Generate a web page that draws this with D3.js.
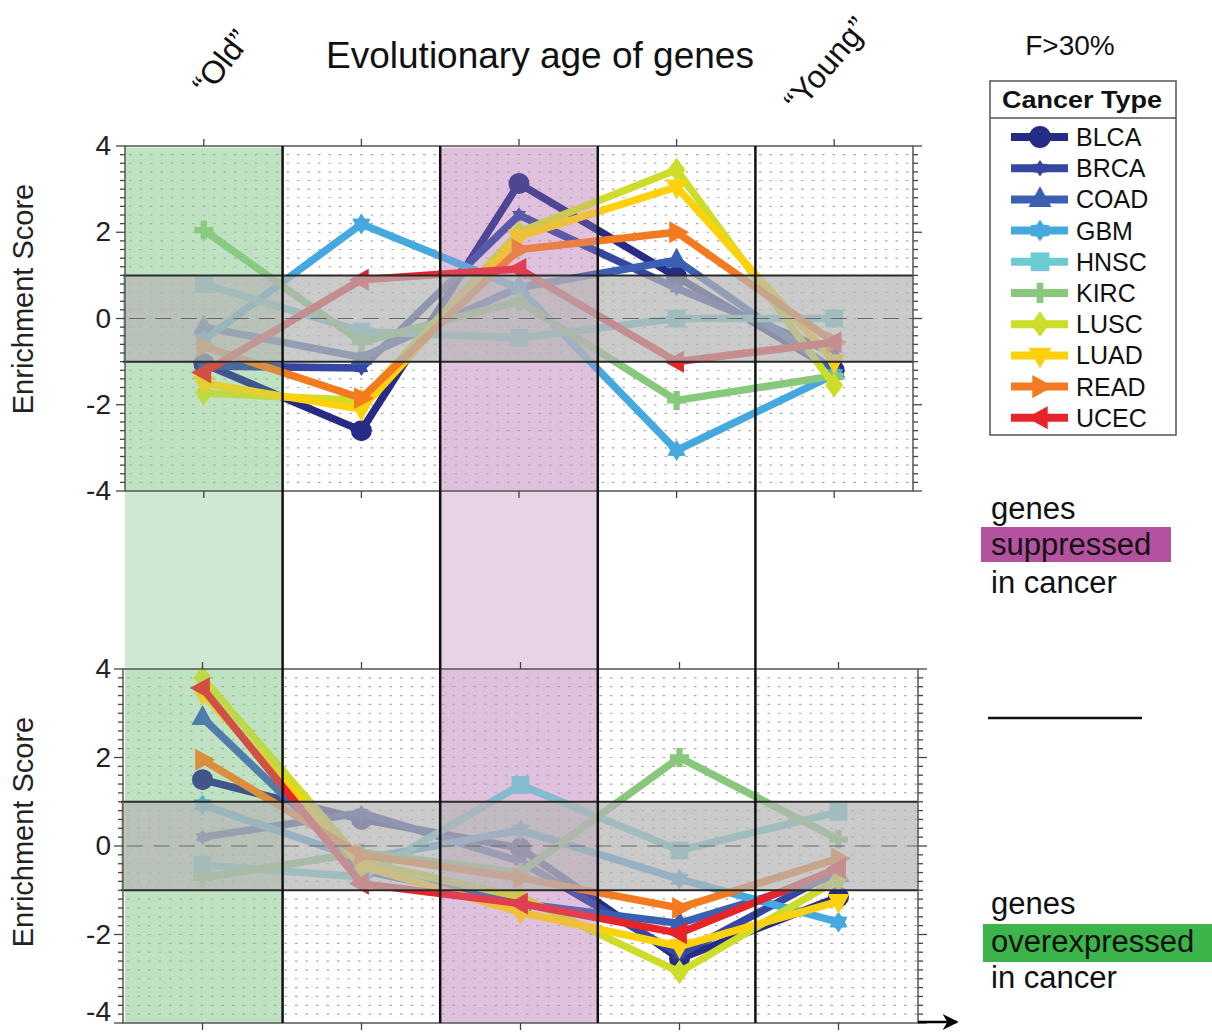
<!DOCTYPE html>
<html lang="en">
<head>
<meta charset="UTF-8">
<title>Evolutionary age of genes</title>
<style>
    body { margin: 0; background: #fff; }
    svg { display: block; font-family: "Liberation Sans", Arial, Helvetica, sans-serif; }
</style>
</head>
<body>
<svg id="chart" width="1212" height="1032"></svg>
<script src="https://d3js.org/d3.v7.min.js"></script>
<script>
    // age bins, "Old" -> "Young"
    var ageBins = [1, 2, 3, 4, 5];
    var cancerTypes = ["BLCA", "BRCA", "COAD", "GBM", "HNSC", "KIRC", "LUSC", "LUAD", "READ", "UCEC"];
    var typeColors = ["#262c85", "#3547a0", "#3b60b2", "#45a9e0", "#6ccbd2", "#87c87d", "#cedc2a", "#fdd10c", "#f47a21", "#e8242b"];
    var typeMarkers = ["circle", "hexSmall", "triUp", "hexagram", "square", "plus", "diamond", "triDown", "triRight", "triLeft"];
    var yTicks = [-4, -2, 0, 2, 4];

    // enrichment scores, one row per cancer type (upper panel: suppressed genes)
    var suppressedScores = [
        [-1.05, -2.6, 3.13, 0.97, -1.2],
        [-1.1, -1.15, 2.4, 0.7, -0.8],
        [-0.2, -0.9, 0.72, 1.35, -1.2],
        [-0.5, 2.19, 0.7, -3.06, -1.3],
        [0.8, -0.3, -0.45, 0.0, 0.0],
        [2.05, -0.55, 0.4, -1.9, -1.33],
        [-1.73, -1.9, 2.0, 3.45, -1.55],
        [-1.5, -2.1, 1.9, 3.05, -1.0],
        [-0.65, -1.85, 1.6, 2.0, -0.55],
        [-1.25, 0.9, 1.15, -1.0, -0.55]
    ];
    // lower panel: overexpressed genes
    var overexpressedScores = [
        [1.5, 0.6, -0.05, -2.55, -1.15],
        [0.2, 0.75, -0.35, -2.45, -0.55],
        [2.9, -0.55, -1.3, -1.75, -0.65],
        [0.93, -0.3, 0.36, -0.75, -1.72],
        [-0.43, -0.7, 1.38, -0.1, 0.77],
        [-0.72, -0.15, -0.6, 2.0, 0.15],
        [3.8, -0.35, -1.15, -2.85, -0.75],
        [3.45, -0.45, -1.5, -2.27, -1.25],
        [1.95, -0.2, -0.72, -1.4, -0.28],
        [3.57, -0.85, -1.3, -1.97, -0.5]
    ];

    var svg = d3.select("#chart");

    var xTop = d3.scaleLinear().domain([0.5, 5.5]).range([125, 913]);
    var yTop = d3.scaleLinear().domain([-4, 4]).range([491, 146]);
    var xBot = d3.scaleLinear().domain([0.5, 5.5]).range([123, 918]);
    var yBot = d3.scaleLinear().domain([-4, 4]).range([1023, 669]);

    var greenBand = "#cfe8d1", purpleBand = "#e8d2e6";

    // marker shapes, drawn around 0,0
    function markerPath(type, r) {
        var p = d3.path();
        if (type === "circle") {
            p.arc(0, 0, r, 0, 2 * Math.PI);
        } else if (type === "square") {
            p.rect(-r * 0.85, -r * 0.85, r * 1.7, r * 1.7);
        } else if (type === "diamond") {
            p.moveTo(0, -r * 1.15); p.lineTo(r * 0.85, 0); p.lineTo(0, r * 1.15); p.lineTo(-r * 0.85, 0); p.closePath();
        } else if (type === "triUp" || type === "triDown" || type === "triRight" || type === "triLeft") {
            var pts = [[0, -r * 1.2], [r * 1.05, r * 0.7], [-r * 1.05, r * 0.7]];
            var rot = {triUp: 0, triRight: 90, triDown: 180, triLeft: 270}[type] * Math.PI / 180;
            pts.forEach(function (q, i) {
                var x = q[0] * Math.cos(rot) - q[1] * Math.sin(rot);
                var y = q[0] * Math.sin(rot) + q[1] * Math.cos(rot);
                if (i === 0) p.moveTo(x, y); else p.lineTo(x, y);
            });
            p.closePath();
        } else if (type === "hexagram" || type === "hexSmall") {
            var rr = type === "hexSmall" ? r * 0.75 : r;
            for (var i = 0; i < 12; i++) {
                var a = -Math.PI / 2 + i * Math.PI / 6;
                var d = i % 2 === 0 ? rr : rr * 0.62;
                if (i === 0) p.moveTo(d * Math.cos(a), d * Math.sin(a)); else p.lineTo(d * Math.cos(a), d * Math.sin(a));
            }
            p.closePath();
        } else if (type === "plus") {
            p.rect(-r * 0.9, -r * 0.3, r * 1.8, r * 0.6);
            p.rect(-r * 0.3, -r * 0.9, r * 0.6, r * 1.8);
        }
        return p.toString();
    }

    // coloured age columns (behind everything) spanning both panels
    var cols = svg.append("g");
    cols.append("rect")
        .attr("x", xTop(0.5)).attr("y", 148)
        .attr("width", xTop(1.5) - xTop(0.5)).attr("height", 1023 - 148)
        .attr("fill", greenBand);
    cols.append("rect")
        .attr("x", xTop(2.5)).attr("y", 148)
        .attr("width", xTop(3.5) - xTop(2.5)).attr("height", 1023 - 148)
        .attr("fill", purpleBand);

    function drawPanel(x, y, scores, labelY) {
        var g = svg.append("g");
        var x0 = x.range()[0], x1 = x.range()[1];
        var y0 = y.range()[1], y1 = y.range()[0];

        // dotted grid rows
        var rows = d3.range(-19, 20).map(function (k) { return k / 5; });
        g.selectAll(".grid").data(rows).enter().append("line")
            .attr("x1", x0 + 4).attr("x2", x1)
            .attr("y1", function (d) { return y(d); }).attr("y2", function (d) { return y(d); })
            .attr("stroke", "#a8a8a8").attr("stroke-width", 1.2)
            .attr("stroke-dasharray", "2.5,8");

        // series lines
        var line = d3.line().x(function (d, i) { return x(ageBins[i]); }).y(function (d) { return y(d); });
        var series = g.selectAll(".series").data(scores).enter().append("g");
        series.append("path")
            .attr("d", function (d) { return line(d); })
            .attr("fill", "none")
            .attr("stroke", function (d, i) { return typeColors[i]; })
            .attr("stroke-width", 7.5)
            .attr("stroke-linejoin", "miter");
        series.each(function (row, si) {
            d3.select(this).selectAll("path.mk").data(row).enter().append("path")
                .attr("class", "mk")
                .attr("transform", function (d, i) { return "translate(" + x(ageBins[i]) + "," + y(d) + ")"; })
                .attr("d", markerPath(typeMarkers[si], 10.5))
                .attr("fill", typeColors[si]);
        });

        // tint of the age columns over the lines
        var tint = g.append("g");
        tint.append("rect").attr("x", xTop(0.5)).attr("y", y0).attr("width", xTop(1.5) - xTop(0.5)).attr("height", y1 - y0)
            .attr("fill", "#8fd096").attr("opacity", 0.25);
        tint.append("rect").attr("x", xTop(2.5)).attr("y", y0).attr("width", xTop(3.5) - xTop(2.5)).attr("height", y1 - y0)
            .attr("fill", "#c98ec3").attr("opacity", 0.25);

        // grey "not significant" band
        g.append("rect")
            .attr("x", x0 - 2).attr("y", y(1))
            .attr("width", x1 - x0 + 2).attr("height", y(-1) - y(1))
            .attr("fill", "#b5b5b5").attr("opacity", 0.72);
        g.append("line").attr("x1", x0 + 4).attr("x2", x1).attr("y1", y(0)).attr("y2", y(0))
            .attr("stroke", "#6a6a6a").attr("stroke-width", 1.2).attr("stroke-dasharray", "16,10");
        [1, -1].forEach(function (v) {
            g.append("line").attr("x1", x0 - 2).attr("x2", x1).attr("y1", y(v)).attr("y2", y(v))
                .attr("stroke", "#2a2a2a").attr("stroke-width", 2);
        });

        // frame
        g.append("rect").attr("x", x0).attr("y", y0).attr("width", x1 - x0).attr("height", y1 - y0)
            .attr("fill", "none").attr("stroke", "#555").attr("stroke-width", 1.5);

        // y ticks on both sides, pointing out
        var minor = d3.range(-20, 21).map(function (k) { return k / 5; });
        minor.forEach(function (v) {
            var major = Math.abs(v - Math.round(v / 2) * 2) < 1e-6;
            var len = major ? 9 : 5;
            g.append("line").attr("x1", x0 - len).attr("x2", x0).attr("y1", y(v)).attr("y2", y(v))
                .attr("stroke", "#444").attr("stroke-width", 1.3);
            g.append("line").attr("x1", x1).attr("x2", x1 + len).attr("y1", y(v)).attr("y2", y(v))
                .attr("stroke", "#444").attr("stroke-width", 1.3);
        });
        ageBins.forEach(function (b) {
            g.append("line").attr("x1", x(b)).attr("x2", x(b)).attr("y1", y0 - 7).attr("y2", y0)
                .attr("stroke", "#444").attr("stroke-width", 1.3);
            g.append("line").attr("x1", x(b)).attr("x2", x(b)).attr("y1", y1).attr("y2", y1 + 7)
                .attr("stroke", "#444").attr("stroke-width", 1.3);
        });

        // the lowest label of the lower panel sits at the page edge, keep it inside
        g.selectAll(".ylab").data(yTicks).enter().append("text")
            .attr("x", 111).attr("y", function (d) { return Math.min(y(d), 1012); })
            .attr("dy", "0.33em")
            .attr("text-anchor", "end")
            .attr("font-size", 28).attr("fill", "#222")
            .text(function (d) { return d; });

        svg.append("text")
            .attr("transform", "translate(33," + labelY + ") rotate(-90)")
            .attr("text-anchor", "middle")
            .attr("font-size", 29).attr("fill", "#222")
            .text("Enrichment Score");
    }

    drawPanel(xTop, yTop, suppressedScores, 299);
    drawPanel(xBot, yBot, overexpressedScores, 832);

    // black separators between age bins, through both panels
    [1.5, 2.5, 3.5, 4.5].forEach(function (b) {
        svg.append("line").attr("x1", xTop(b)).attr("x2", xTop(b)).attr("y1", 146).attr("y2", 1023)
            .attr("stroke", "#111").attr("stroke-width", 2.5);
    });

    // x axis arrow
    svg.append("defs").append("marker")
        .attr("id", "arrow").attr("viewBox", "0 0 10 10")
        .attr("refX", 9).attr("refY", 5)
        .attr("markerWidth", 24).attr("markerHeight", 16).attr("markerUnits", "userSpaceOnUse")
        .attr("orient", "auto")
        .append("path").attr("d", "M0,0 L10,5 L0,10 L3,5 Z").attr("fill", "#000");
    svg.append("line").attr("x1", 918).attr("x2", 957).attr("y1", 1022).attr("y2", 1022)
        .attr("stroke", "#000").attr("stroke-width", 2.5)
        .attr("marker-end", "url(#arrow)");

    // titles
    svg.append("text").attr("x", 540).attr("y", 68).attr("text-anchor", "middle")
        .attr("font-size", 37).attr("fill", "#111").text("Evolutionary age of genes");
    svg.append("text").attr("transform", "translate(221,62) rotate(-52)").attr("text-anchor", "middle")
        .attr("dy", "0.35em").attr("font-size", 32).attr("fill", "#111").text("\u201COld\u201D");
    svg.append("text").attr("transform", "translate(826,64) rotate(-50)").attr("text-anchor", "middle")
        .attr("dy", "0.35em").attr("font-size", 32).attr("fill", "#111").text("\u201CYoung\u201D");
    svg.append("text").attr("x", 1070).attr("y", 55).attr("text-anchor", "middle")
        .attr("font-size", 28).attr("fill", "#111").text("F>30%");

    // legend
    var legend = svg.append("g");
    legend.append("rect").attr("x", 990).attr("y", 81).attr("width", 186).attr("height", 354)
        .attr("fill", "#fff").attr("stroke", "#555").attr("stroke-width", 1.5);
    legend.append("line").attr("x1", 990).attr("x2", 1176).attr("y1", 118).attr("y2", 118)
        .attr("stroke", "#555").attr("stroke-width", 1.5);
    legend.append("text").attr("x", 1082).attr("y", 108).attr("text-anchor", "middle")
        .attr("font-size", 24).attr("font-weight", "bold").attr("fill", "#111")
        .attr("textLength", 160).attr("lengthAdjust", "spacingAndGlyphs").text("Cancer Type");
    var entry = legend.selectAll(".entry").data(cancerTypes).enter().append("g")
        .attr("transform", function (d, i) { return "translate(0," + (137 + i * 31.2) + ")"; });
    entry.append("line").attr("x1", 1011).attr("x2", 1068).attr("y1", 0).attr("y2", 0)
        .attr("stroke", function (d, i) { return typeColors[i]; }).attr("stroke-width", 8);
    entry.append("path").attr("transform", "translate(1040,0)")
        .attr("d", function (d, i) { return markerPath(typeMarkers[i], 11); })
        .attr("fill", function (d, i) { return typeColors[i]; });
    entry.append("text").attr("x", 1076).attr("y", 0).attr("dy", "0.36em")
        .attr("font-size", 25).attr("fill", "#111").text(function (d) { return d; });

    // side notes
    svg.append("rect").attr("x", 981).attr("y", 527).attr("width", 190).attr("height", 35).attr("fill", "#b5529f");
    svg.append("rect").attr("x", 983).attr("y", 924).attr("width", 229).attr("height", 38).attr("fill", "#3bb44a");
    [["genes", 519], ["suppressed", 555], ["in cancer", 593], ["genes", 914], ["overexpressed", 952], ["in cancer", 988]]
        .forEach(function (t) {
            svg.append("text").attr("x", 991).attr("y", t[1]).attr("font-size", 31).attr("fill", "#111").text(t[0]);
        });
    svg.append("line").attr("x1", 988).attr("x2", 1142).attr("y1", 718).attr("y2", 718)
        .attr("stroke", "#111").attr("stroke-width", 2.5);
</script>
</body>
</html>
